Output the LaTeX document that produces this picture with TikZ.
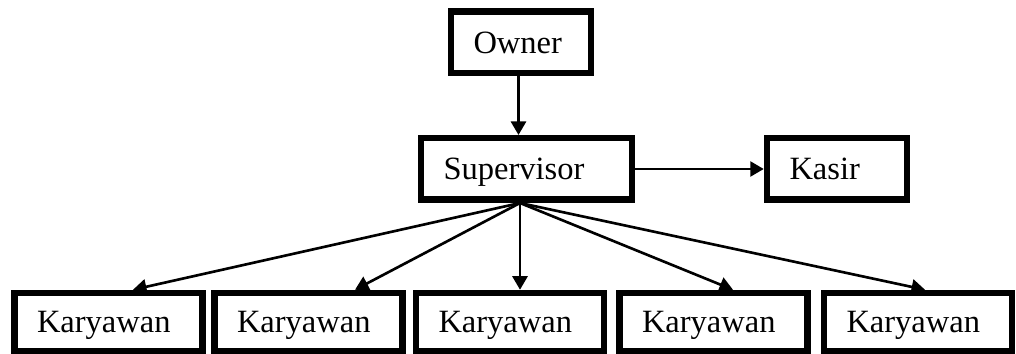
\documentclass[tikz,border=0pt]{standalone}
\usepackage{fontspec}
\setmainfont{Liberation Serif}
\usetikzlibrary{arrows.meta}

\begin{document}
\begin{tikzpicture}[
		box/.style={draw, line width=3.7pt, inner xsep=0.45cm, inner ysep=0pt, align=left,
			text height=12.2pt, text depth=0pt, minimum height=1.23cm, font=\fontsize{18.5}{20}\selectfont},
		link/.style={line width=1.5pt, -{Triangle[length=0.27cm, width=0.3cm]}}
	]
		\useasboundingbox (0, 0) rectangle (20.32, -7.08);
		
		% Top of the chart
		\node[box, text width=1.9cm] (owner) at (10.42, -0.85) {Owner};
		\node[box, text width=3.32cm] (sup) at (10.53, -3.38) {Supervisor};
		\node[box, text width=1.9cm] (kasir) at (16.74, -3.38) {Kasir};
		
		% Bottom row of boxes
		\foreach \i/\x in {1/2.17, 2/6.17, 3/10.2, 4/14.27, 5/18.36} {
			\node[box, text width=2.86cm, minimum height=1.16cm] (k\i) at (\x, -6.44) {Karyawan};
		}
		
		% Draw the arrows
		\coordinate (fan) at ([xshift=-0.13cm]sup.south);
		\draw[link] ([xshift=-0.05cm]owner.south) -- ([xshift=-0.05cm]owner.south |- sup.north);
		\draw[link] (sup.east) -- (kasir.west);
		\foreach \i/\dx in {1/0.49, 2/0.93, 3/0.2, 4/0.39, 5/0.14} {
			\draw[link] (fan) -- ([xshift=\dx cm]k\i.north);
		}
	\end{tikzpicture}
\end{document}
